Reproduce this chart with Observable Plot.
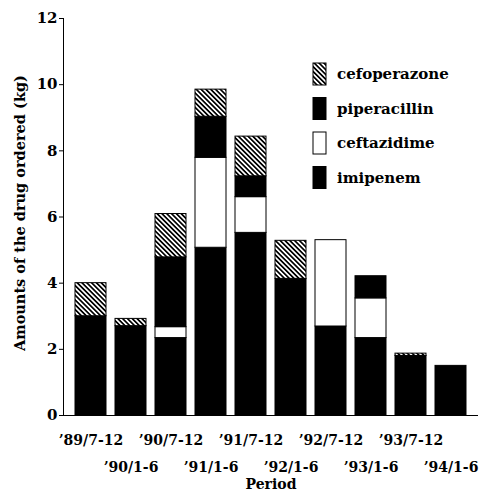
<!DOCTYPE html>
<html><head><meta charset="utf-8">
<script src="https://cdn.jsdelivr.net/npm/d3@7"></script>
<script src="https://cdn.jsdelivr.net/npm/@observablehq/plot@0.6"></script>
<style>body{margin:0;background:#fff}</style>
</head><body><div id="chart"></div>
<script>
const periods = ["’89/7-12","’90/1-6","’90/7-12","’91/1-6","’91/7-12","’92/1-6","’92/7-12","’93/1-6","’93/7-12","’94/1-6"];
const imipenem     = [3.0, 2.7, 2.34, 5.07, 5.52, 4.13, 2.69, 2.34, 1.8, 1.5];
const ceftazidime  = [0,   0,   0.33, 2.72, 1.08, 0,    2.61, 1.2,  0,   0];
const piperacillin = [0,   0,   2.11, 1.24, 0.63, 0,    0,    0.67, 0,   0];
const cefoperazone = [1.0, 0.22,1.31, 0.82, 1.2,  1.15, 0,    0,    0.07,0];
const drugs = ["imipenem","ceftazidime","piperacillin","cefoperazone"]; // stacking order, bottom to top
const legendOrder = ["cefoperazone","piperacillin","ceftazidime","imipenem"];
const fills = ["black","white","black","url(#hatch)"];
const yTicks = [0,2,4,6,8,10,12];
const yTitle = "Amounts of the drug ordered (kg)";
const xTitle = "Period";

const series = {imipenem, ceftazidime, piperacillin, cefoperazone};
const data = [];
periods.forEach((p, i) => {
  drugs.forEach(dr => {
    const v = series[dr][i];
    if (v > 0) data.push({period: p, drug: dr, value: v});
  });
});
const oddTicks = periods.filter((d, i) => i % 2 === 0);
const evenTicks = periods.filter((d, i) => i % 2 === 1);

const chart = Plot.plot({
  width: 489,
  height: 492,
  marginLeft: 63,
  marginRight: 11,
  marginTop: 18,
  marginBottom: 77,
  style: {fontFamily: "DejaVu Serif", fontWeight: "bold", fontSize: "14px", background: "white", color: "black"},
  x: {domain: periods, paddingInner: 0.22, paddingOuter: 0.24, axis: null},
  y: {domain: [0, 12], axis: null},
  color: {type: "ordinal", domain: drugs, range: fills},
  marks: [
    Plot.barY(data, {x: "period", y: "value", fill: "drug", stroke: "black", strokeWidth: 1}),
    Plot.axisY({ticks: yTicks, tickSize: 4, tickPadding: 2, label: null, fontSize: 15}),
    Plot.axisX({ticks: oddTicks, tickSize: 0, tickPadding: 20, label: null, fontSize: 14}),
    Plot.axisX({ticks: evenTicks, tickSize: 0, tickPadding: 47, label: null, fontSize: 14}),
    Plot.frame({anchor: "left"}),
    Plot.ruleY([0]),
    Plot.text([yTitle], {text: d => d, frameAnchor: "left", textAnchor: "middle", lineAnchor: "middle", rotate: -90, dx: -43, dy: -4, fontSize: 14.5}),
    Plot.text([xTitle], {text: d => d, frameAnchor: "bottom", dy: 73, lineAnchor: "bottom", fontSize: 14})
  ]
});
document.getElementById("chart").appendChild(chart);

const svg = d3.select(chart);
const defs = svg.insert("defs", ":first-child");
const pat = defs.append("pattern").attr("id", "hatch").attr("patternUnits", "userSpaceOnUse")
  .attr("width", 3.4).attr("height", 3.4).attr("patternTransform", "rotate(-45)");
pat.append("rect").attr("width", 3.4).attr("height", 3.4).attr("fill", "white");
pat.append("rect").attr("width", 1.7).attr("height", 3.4).attr("fill", "black");

const fillOf = d => fills[drugs.indexOf(d)];
const lg = svg.append("g").attr("font-size", 15).attr("text-anchor", "start");
legendOrder.forEach((d, i) => {
  const y = 63 + i * 34.5;
  lg.append("rect").attr("x", 313).attr("y", y).attr("width", 13).attr("height", 22)
    .attr("fill", fillOf(d)).attr("stroke", "black");
  lg.append("text").attr("x", 337).attr("y", y + 16).attr("fill", "black").attr("text-anchor", "start").text(d);
});
</script>
</body></html>
